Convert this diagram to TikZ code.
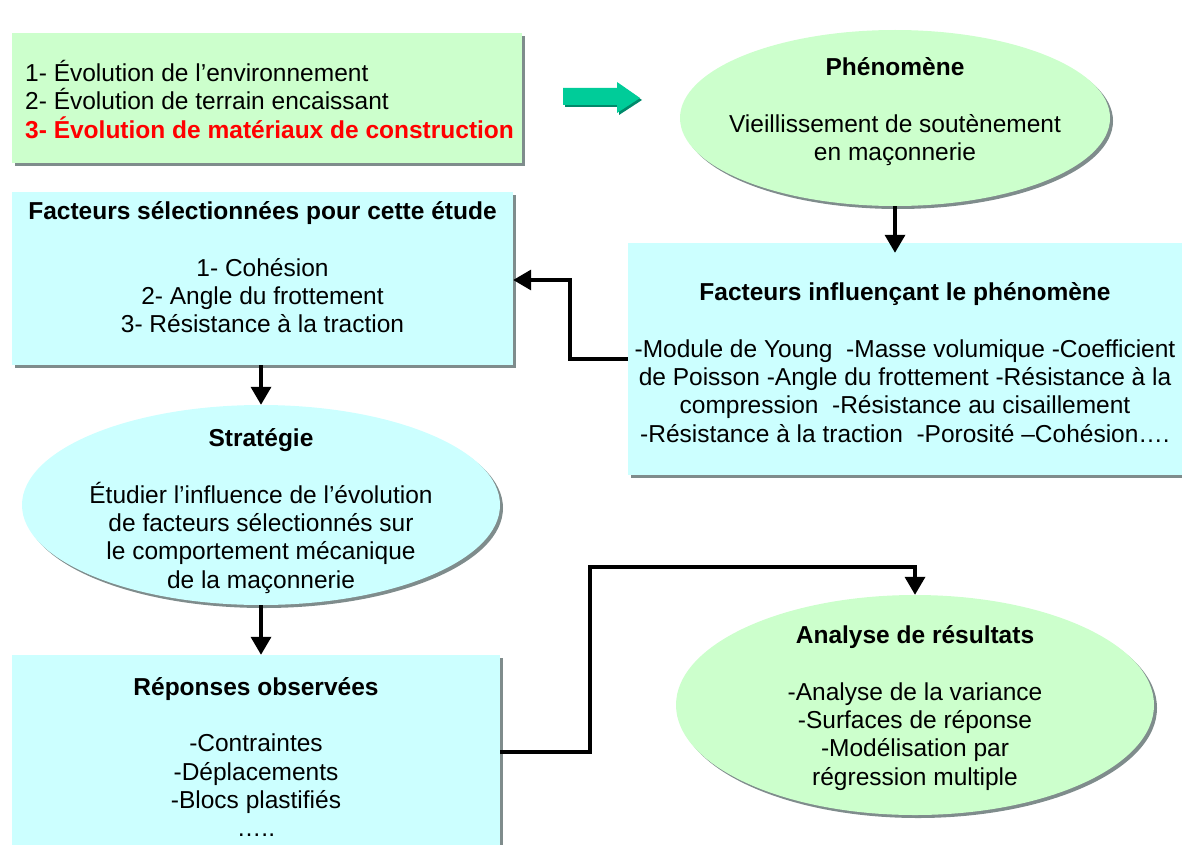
\documentclass[tikz,border=0pt]{standalone}
\usepackage{fontspec}
\setmainfont{Liberation Sans}
\usetikzlibrary{shapes.geometric,shadows,arrows.meta}
\definecolor{boxgreen}{HTML}{CCFFCC}
\definecolor{boxcyan}{HTML}{CCFFFF}
\definecolor{arrowgreen}{HTML}{00CC99}
\definecolor{arrowshade}{HTML}{00896A}
\definecolor{shadowgray}{HTML}{7F8C8C}
\definecolor{textred}{HTML}{FF0000}
\begin{document}
\begin{tikzpicture}[x=1pt,y=-1pt,
  txt/.style={font=\fontsize{24.5}{28.3}\selectfont, align=center, inner sep=0pt},
  shad/.style={drop shadow={shadow xshift=3pt, shadow yshift=-3pt, fill=shadowgray, opacity=1}},
  rbox/.style={rectangle, draw=none, inner sep=0pt, shad},
  ebox/.style={ellipse, draw=none, inner sep=0pt, shad},
  conn/.style={line width=3.5pt, -{Triangle[length=18pt,width=20pt]}}
]
\useasboundingbox (0,0) rectangle (1182,845);

% shapes
\node[rbox, fill=boxgreen, minimum width=510pt, minimum height=130pt] (env) at (267,98) {};
\node[ebox, fill=boxgreen, minimum width=430pt, minimum height=176pt] (phen) at (895,118) {};
\node[rbox, fill=boxcyan, minimum width=556pt, minimum height=232pt] (inf) at (906,359) {};
\node[rbox, fill=boxcyan, minimum width=501pt, minimum height=173pt] (sel) at (262.5,278.5) {};
\node[ebox, fill=boxcyan, minimum width=478pt, minimum height=200pt] (strat) at (261,505) {};
\node[rbox, fill=boxcyan, minimum width=488pt, minimum height=200pt] (rep) at (256,755) {};
\node[ebox, fill=boxgreen, minimum width=478pt, minimum height=220pt] (ana) at (915,705) {};

% green block arrow
\fill[arrowshade] (565,90) -- (619,90) -- (619,84) -- (642,100) -- (619,115) -- (619,107) -- (565,107) -- cycle;
\fill[arrowgreen] (563,88) -- (617,88) -- (617,82) -- (640,98) -- (617,113) -- (617,105) -- (563,105) -- cycle;

% texts
\node[txt, anchor=west, align=left] (envt) at (25,99.5)
  {1- Évolution de l’environnement\\2- Évolution de terrain encaissant\\\textcolor{textred}{\bfseries 3- Évolution de matériaux de construction}};
\node[txt] (phent) at (895,112)
  {\textbf{Phénomène}\\[28.3pt]Vieillissement de soutènement\\en maçonnerie};
\node[txt] (inft) at (905,362.5)
  {\textbf{Facteurs influençant le phénomène}\\[28.3pt]-Module de Young\ \ -Masse volumique -Coefficient\\de Poisson -Angle du frottement -Résistance à la\\compression\ \ -Résistance au cisaillement\\-Résistance à la traction\ \ -Porosité –Cohésion….};
\node[txt] (selt) at (262.5,267.5)
  {\textbf{Facteurs sélectionnées pour cette étude}\\[28.3pt]1- Cohésion\\2- Angle du frottement\\3- Résistance à la traction};
\node[txt] (stratt) at (261,511)
  {\textbf{Stratégie}\\[28.3pt]Étudier l’influence de l’évolution\\de facteurs sélectionnés sur\\le comportement mécanique\\de la maçonnerie};
\node[txt] (rept) at (256,757)
  {\textbf{Réponses observées}\\[28.3pt]-Contraintes\\-Déplacements\\-Blocs plastifiés\\…..};
\node[txt] (anat) at (915,708)
  {\textbf{Analyse de résultats}\\[28.3pt]-Analyse de la variance\\-Surfaces de réponse\\-Modélisation par\\régression multiple};

% connectors
\draw[conn, shorten >=-10pt] (phen.south) -- (inf.north -| phen.south);
\coordinate (bend1) at (570,280);
\draw[conn] (inf.west) -| (bend1) -- (sel.east |- bend1);
\draw[conn] (strat.north |- sel.south) -- (strat.north);
\draw[conn] (strat.south) -- (strat.south |- rep.north);
\coordinate (bend2) at (590,567);
\draw[conn] (rep.east |- 0,752) -| (bend2) -| (ana.north);
\end{tikzpicture}
\end{document}
